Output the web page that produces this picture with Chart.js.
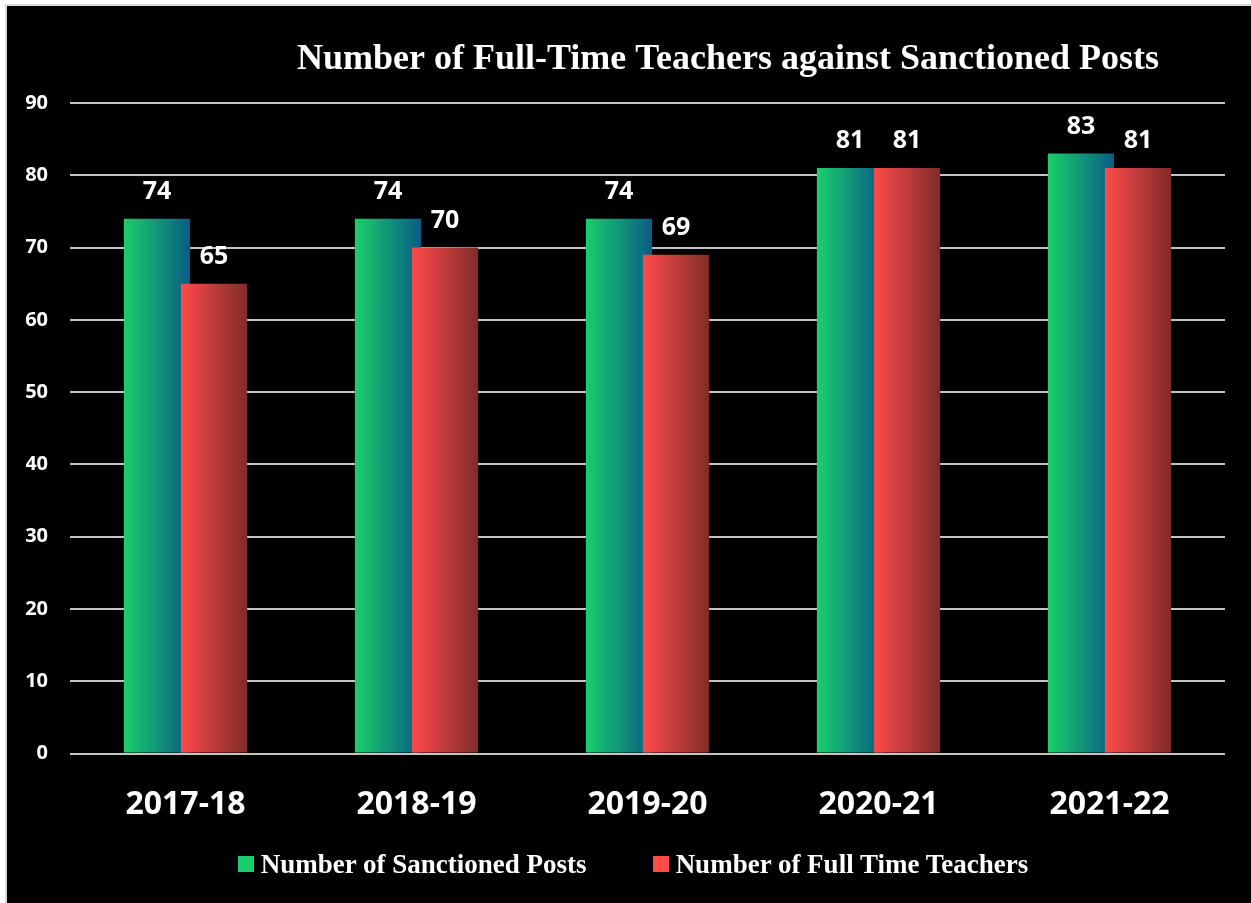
<!DOCTYPE html>
<html>
<head>
<meta charset="utf-8">
<script src="https://cdn.jsdelivr.net/npm/chart.js@4.4.0/dist/chart.umd.min.js"></script>
<style>
  html, body { margin: 0; background: #fff; }
  #panel {
    position: absolute; left: 5px; top: 4px; width: 1246px; height: 899px;
    background: #000; box-sizing: border-box;
    border-top: 2px solid #d9d9d9; border-left: 2px solid #d9d9d9;
  }
  #wrap { position: relative; width: 1244px; height: 897px; }
  #legend {
    position: absolute; left: 0; right: 0; top: 849px; padding-left: 15px;
    display: flex; justify-content: center; align-items: center; gap: 66px;
    font: bold 27px "Liberation Serif"; line-height: 30px; color: #fff;
  }
  #legend .item { display: flex; align-items: center; }
  #legend .box { width: 16px; height: 16px; margin-right: 7px; }
</style>
</head>
<body>
<div id="panel"><div id="wrap"><canvas id="chartTeachers"></canvas></div></div>
<div id="legend"></div>
<script>
// ===============================
// DATA
// ===============================
const years = ["2017-18", "2018-19", "2019-20", "2020-21", "2021-22"];
const sanctionedPosts = [74, 74, 74, 81, 83];
const fullTimeTeachers = [65, 70, 69, 81, 81];
const yTicks = [0, 10, 20, 30, 40, 50, 60, 70, 80, 90];

const titleText = "Number of Full-Time Teachers against Sanctioned Posts";
const seriesNames = ["Number of Sanctioned Posts", "Number of Full Time Teachers"];

// colours (left -> right of each bar)
const greenStops = ["#19cf6b", "#0a5c84"];
const redStops = ["#ff4a4a", "#7e2d29"];

const CAT_PCT = 0.494;
const BAR_PCT = 1.16;

// horizontal gradient across one bar, found from the x scale
function barGradient(ctx, stops, side) {
  const chart = ctx.chart;
  if (!chart.chartArea) return stops[0];
  const x = chart.scales.x;
  const center = x.getPixelForValue(ctx.dataIndex);
  const cat = x.width / years.length;
  const slot = cat * CAT_PCT / 2;
  const w = slot * BAR_PCT;
  const mid = center + side * slot / 2;
  const g = chart.ctx.createLinearGradient(mid - w / 2, 0, mid + w / 2, 0);
  g.addColorStop(0, stops[0]);
  g.addColorStop(1, stops[1]);
  return g;
}

// green bars go under the red ones (chart.js would put the first set on top)
const drawOrder = {
  id: "drawOrder",
  beforeDatasetsDraw(chart) {
    chart.getDatasetMeta(0).controller.draw();
  },
  beforeDatasetDraw(chart, args) {
    if (args.index === 0) return false;
  }
};

// title drawn a bit right of centre, like the original
const titlePlugin = {
  id: "titlePlugin",
  afterDraw(chart) {
    const c = chart.ctx;
    c.save();
    c.font = 'bold 36px "Liberation Serif"';
    c.fillStyle = "#fff";
    c.textAlign = "center";
    c.textBaseline = "middle";
    c.fillText(titleText, 721, 54);
    c.restore();
  }
};

// value labels above bars
const valueLabels = {
  id: "valueLabels",
  afterDatasetsDraw(chart) {
    const c = chart.ctx;
    c.save();
    c.font = 'bold 25px "Open Sans"';
    c.fillStyle = "#fff";
    c.textAlign = "center";
    c.textBaseline = "middle";
    chart.data.datasets.forEach((ds, i) => {
      chart.getDatasetMeta(i).data.forEach((bar, j) => {
        c.fillText(ds.data[j], bar.x, bar.y - 27);
      });
    });
    c.restore();
  }
};

new Chart(document.getElementById("chartTeachers"), {
  type: "bar",
  data: {
    labels: years,
    datasets: [
      {
        label: seriesNames[0],
        data: sanctionedPosts,
        backgroundColor: ctx => barGradient(ctx, greenStops, -1),
        categoryPercentage: CAT_PCT,
        barPercentage: BAR_PCT
      },
      {
        label: seriesNames[1],
        data: fullTimeTeachers,
        backgroundColor: ctx => barGradient(ctx, redStops, 1),
        categoryPercentage: CAT_PCT,
        barPercentage: BAR_PCT
      }
    ]
  },
  options: {
    responsive: true,
    maintainAspectRatio: false,
    animation: false,
    layout: { padding: { top: 97, left: 19, right: 26, bottom: 55 } },
    scales: {
      y: {
        min: 0,
        max: 90,
        afterBuildTicks: axis => { axis.ticks = yTicks.map(v => ({ value: v })); },
        afterFit: axis => { axis.width = 44; },
        border: { display: false },
        grid: { color: "#c4c4c4", lineWidth: 2, drawTicks: false },
        ticks: {
          color: "#fff",
          padding: 22,
          font: { family: "Open Sans", weight: "bold", size: 20 }
        }
      },
      x: {
        border: { display: false },
        grid: { display: false },
        ticks: {
          color: "#fff",
          padding: 24,
          font: { family: "Open Sans", weight: "bold", size: 32 }
        }
      }
    },
    plugins: {
      tooltip: { enabled: false },
      legend: { display: false }
    }
  },
  plugins: [drawOrder, titlePlugin, valueLabels]
});

// legend as plain html under the chart
const legendColors = [greenStops[0], redStops[0]];
document.getElementById("legend").innerHTML = seriesNames.map((name, i) =>
  `<span class="item"><span class="box" style="background:${legendColors[i]}"></span>${name}</span>`
).join("");
</script>
</body>
</html>
